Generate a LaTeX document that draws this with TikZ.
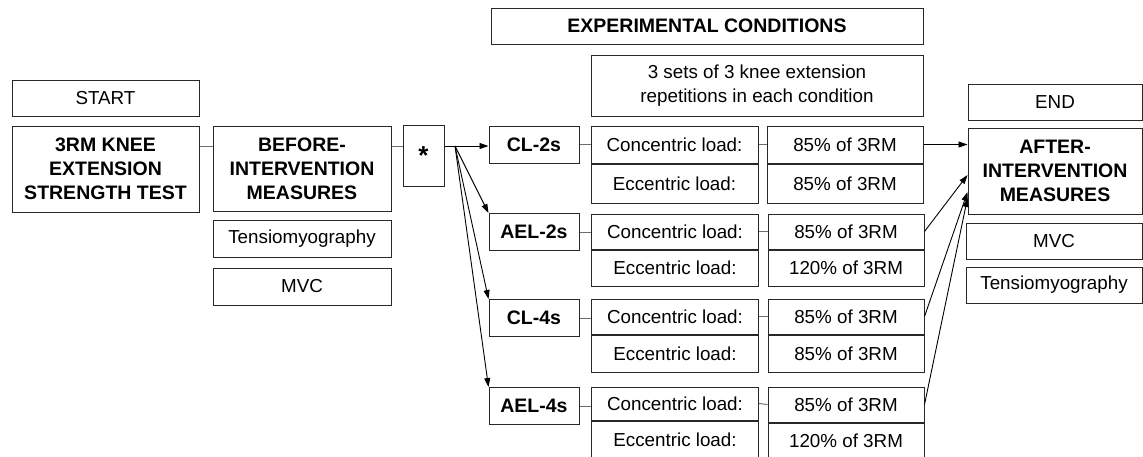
\documentclass[tikz,border=0pt]{standalone}
\usepackage{fontspec}
\setmainfont{Liberation Sans}
\usetikzlibrary{arrows.meta, positioning, calc}
\definecolor{boxline}{RGB}{40, 40, 40}
\definecolor{linkgray}{RGB}{110, 110, 110}

\begin{document}
\begin{tikzpicture}[
        x=1pt, y=-1pt,
        node distance=8pt,
        bx/.style={draw=boxline, line width=1pt, inner sep=0pt, align=center,
          font=\fontsize{18.8}{24}\selectfont},
        hd/.style={bx, font=\fontsize{19.5}{24}\selectfont\bfseries},
        cond/.style={hd, minimum width=90pt, minimum height=37pt},
        lbl/.style={bx, minimum width=167pt},
        val/.style={bx, minimum width=156pt},
        side/.style={bx, minimum width=178pt, minimum height=37pt},
        link/.style={draw=linkgray, line width=1pt},
        arr/.style={-{Triangle[length=9pt, width=6pt]}, line width=0.9pt}
      ]
        \useasboundingbox (0,0) rectangle (1143,456);

        % left part
        \node[bx, minimum width=187pt, minimum height=36pt] (start) at (105.5,98) {START};
        \node[hd, minimum width=187pt, minimum height=86pt] (test) at (105.5,169) {3RM KNEE\\EXTENSION\\STRENGTH TEST};
        \node[hd, minimum width=178pt, minimum height=85pt] (before) at (302,168.5) {BEFORE-\\INTERVENTION\\MEASURES};
        \node[side, below=8pt of before] (tmgA) {Tensiomyography};
        \node[side, below=10pt of tmgA] (mvcA) {MVC};
        \node[bx, minimum width=41pt, minimum height=61pt, font=\fontsize{26}{26}\selectfont\bfseries] (star) at (423.5,155.5) {*};
        \coordinate (fan) at (455,146);

        % experimental conditions
        \node[hd, minimum width=432pt, minimum height=36pt] (expc) at (707,26) {EXPERIMENTAL CONDITIONS};
        \node[bx, minimum width=332pt, minimum height=61pt] (sets) at (757,85.5) {3 sets of 3 knee extension\\repetitions in each condition};

        \node[cond] (cl2) at (534,144.5) {CL-2s};
        \node[lbl, minimum height=37pt] (cl2c) at (674.5,144.5) {Concentric load:};
        \node[lbl, minimum height=39pt, below=0pt of cl2c] (cl2e) {Eccentric load:};
        \node[val, minimum height=37pt] (cl2v) at (845,144.5) {85\% of 3RM};
        \node[val, minimum height=39pt, below=0pt of cl2v] (cl2w) {85\% of 3RM};

        \node[cond] (ael2) at (534,232) {AEL-2s};
        \node[lbl, minimum height=35pt] (ael2c) at (675,231.5) {Concentric load:};
        \node[lbl, minimum height=36pt, below=0pt of ael2c] (ael2e) {Eccentric load:};
        \node[val, minimum height=35pt] (ael2v) at (846,231.5) {85\% of 3RM};
        \node[val, minimum height=36pt, below=0pt of ael2v] (ael2w) {120\% of 3RM};

        \node[cond] (cl4) at (534,318) {CL-4s};
        \node[lbl, minimum height=35pt] (cl4c) at (675,316.5) {Concentric load:};
        \node[lbl, minimum height=37pt, below=0pt of cl4c] (cl4e) {Eccentric load:};
        \node[val, minimum height=35pt] (cl4v) at (846,316.5) {85\% of 3RM};
        \node[val, minimum height=37pt, below=0pt of cl4v] (cl4w) {85\% of 3RM};

        \node[cond] (ael4) at (534,406) {AEL-4s};
        \node[lbl, minimum height=33pt] (ael4c) at (675,403.5) {Concentric load:};
        \node[lbl, minimum height=37pt, below=0pt of ael4c] (ael4e) {Eccentric load:};
        \node[val, minimum height=35pt] (ael4v) at (846,404.5) {85\% of 3RM};
        \node[val, minimum height=36pt, below=0pt of ael4v] (ael4w) {120\% of 3RM};

        % right part
        \node[bx, minimum width=174pt, minimum height=36pt] (end) at (1055,102) {END};
        \node[hd, minimum width=174pt, minimum height=86pt] (after) at (1055,171) {AFTER-\\INTERVENTION\\MEASURES};
        \node[bx, minimum width=176pt, minimum height=36pt] (mvcB) at (1054,241) {MVC};
        \node[bx, minimum width=176pt, minimum height=36pt, below=7pt of mvcB] (tmgB) {Tensiomyography};

        % connectors
        \draw[link] (test.east |- fan) -- (before.west |- fan);
        \draw[link] (before.east |- fan) -- (star.west |- fan);
        \draw[line width=0.9pt] (star.east |- fan) -- (fan);
        \draw[arr] (fan) -- (fan -| cl2.west);
        \draw[arr] (fan) -- (ael2.north west);
        \draw[arr] (fan) -- (cl4.north west);
        \draw[arr] (fan) -- (ael4.north west);

        \draw[link] (cl2.east) -- (cl2.east -| cl2c.west);
        \draw[link] (cl2c.east) -- (cl2v.west);
        \draw[link] (ael2.east) -- (ael2.east -| ael2c.west);
        \draw[link] (ael2c.east) -- (ael2v.west);
        \draw[link] (cl4.east) -- (cl4.east -| cl4c.west);
        \draw[link] (cl4c.east) -- (cl4v.west);
        \draw[link] (ael4.east) -- (ael4.east -| ael4c.west);
        \draw[link] (ael4c.east) -- (ael4v.west);

        \draw[arr] (cl2v.east) -- (after.west |- cl2v);
        \draw[arr] (ael2v.east) -- ([yshift=-4pt]after.west);
        \draw[arr] (cl4v.east) -- ([yshift=-21pt]after.west);
        \draw[arr] (ael4v.east) -- ([yshift=-27pt]after.west);
      \end{tikzpicture}
\end{document}
